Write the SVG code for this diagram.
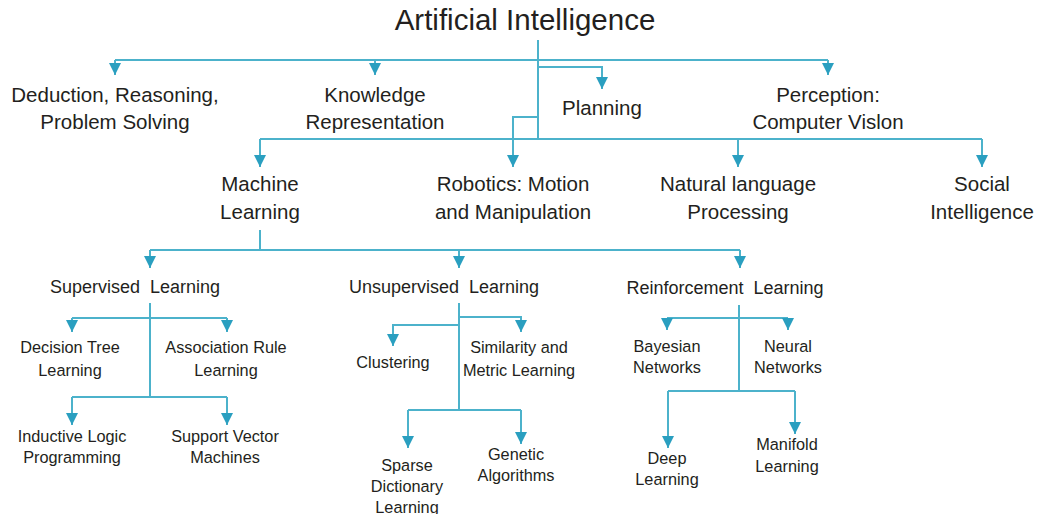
<svg xmlns="http://www.w3.org/2000/svg" width="1043" height="514" viewBox="0 0 1043 514">
<defs>
<marker id="ah" viewBox="0 0 10 10" refX="10" refY="5" markerWidth="12" markerHeight="12" markerUnits="userSpaceOnUse" orient="auto">
<path d="M0,0 L10,5 L0,10 z" fill="#2a9fc0"/>
</marker>
<style>
text{font-family:"Liberation Sans",Arial,sans-serif;fill:#231f20;text-anchor:middle}
.t0{font-size:29.5px}
.t1{font-size:20.5px}
.t2{font-size:18px}
.t3{font-size:16.3px}
.c path{fill:none;stroke:#4cb2cb;stroke-width:2}
.c path.a{marker-end:url(#ah)}
</style>
</defs>
<rect width="1043" height="514" fill="#ffffff"/>
<g class="c" id="connectors">
<path d="M538,40 V140"/>
<path d="M115,60 H828"/>
<path class="a" d="M115,60 V75"/>
<path class="a" d="M375,60 V75"/>
<path class="a" d="M828,60 V75"/>
<path class="a" d="M538,67 H602 V89"/>
<path class="a" d="M538,117 H513 V167"/>
<path d="M260,139 H982"/>
<path class="a" d="M260,139 V167"/>
<path class="a" d="M738,139 V167"/>
<path class="a" d="M982,139 V167"/>
<path d="M260,230 V250"/>
<path d="M150,250 H740"/>
<path class="a" d="M150,250 V268"/>
<path class="a" d="M459,250 V268"/>
<path class="a" d="M740,250 V268"/>
<path d="M150,303 V397"/>
<path d="M72,318 H227"/>
<path class="a" d="M72,318 V332"/>
<path class="a" d="M227,318 V332"/>
<path d="M72,397 H227"/>
<path class="a" d="M72,397 V425"/>
<path class="a" d="M227,397 V425"/>
<path d="M459,303 V410"/>
<path class="a" d="M459,317 H521 V332"/>
<path class="a" d="M459,325 H393 V346"/>
<path d="M408,410 H521"/>
<path class="a" d="M408,410 V448"/>
<path class="a" d="M521,410 V444"/>
<path d="M739,305 V391"/>
<path d="M667,318 H788"/>
<path class="a" d="M667,318 V330"/>
<path class="a" d="M788,318 V330"/>
<path d="M668,391 H795"/>
<path class="a" d="M668,391 V448"/>
<path class="a" d="M795,391 V434"/>
</g>
<g id="n-ai"><text class="t0" x="525" y="30">Artificial Intelligence</text></g>
<g id="n-deduction"><text class="t1" x="115" y="102">Deduction, Reasoning,</text><text class="t1" x="115" y="129">Problem Solving</text></g>
<g id="n-knowledge"><text class="t1" x="375" y="102">Knowledge</text><text class="t1" x="375" y="129">Representation</text></g>
<g id="n-planning"><text class="t1" x="602" y="115">Planning</text></g>
<g id="n-perception"><text class="t1" x="828" y="102">Perception:</text><text class="t1" x="828" y="129">Computer Vislon</text></g>
<g id="n-ml"><text class="t1" x="260" y="191">Machine</text><text class="t1" x="260" y="219">Learning</text></g>
<g id="n-robotics"><text class="t1" x="513" y="191">Robotics: Motion</text><text class="t1" x="513" y="219">and Manipulation</text></g>
<g id="n-nlp"><text class="t1" x="738" y="191">Natural language</text><text class="t1" x="738" y="219">Processing</text></g>
<g id="n-social"><text class="t1" x="982" y="191">Social</text><text class="t1" x="982" y="219">Intelligence</text></g>
<g id="n-supervised"><text class="t2" x="135" y="293" xml:space="preserve">Supervised  Learning</text></g>
<g id="n-unsupervised"><text class="t2" x="444" y="293" xml:space="preserve">Unsupervised  Learning</text></g>
<g id="n-reinforcement"><text class="t2" x="725" y="294" xml:space="preserve">Reinforcement  Learning</text></g>
<g id="n-decision"><text class="t3" x="70" y="353">Decision Tree</text><text class="t3" x="70" y="376">Learning</text></g>
<g id="n-association"><text class="t3" x="226" y="353">Association Rule</text><text class="t3" x="226" y="376">Learning</text></g>
<g id="n-inductive"><text class="t3" x="72" y="442">Inductive Logic</text><text class="t3" x="72" y="463">Programming</text></g>
<g id="n-svm"><text class="t3" x="225" y="442">Support Vector</text><text class="t3" x="225" y="463">Machines</text></g>
<g id="n-clustering"><text class="t3" x="393" y="368">Clustering</text></g>
<g id="n-similarity"><text class="t3" x="519" y="353">Similarity and</text><text class="t3" x="519" y="376">Metric Learning</text></g>
<g id="n-sparse"><text class="t3" x="407" y="471">Sparse</text><text class="t3" x="407" y="492">Dictionary</text><text class="t3" x="407" y="513">Learning</text></g>
<g id="n-genetic"><text class="t3" x="516" y="460">Genetic</text><text class="t3" x="516" y="481">Algorithms</text></g>
<g id="n-bayesian"><text class="t3" x="667" y="352">Bayesian</text><text class="t3" x="667" y="373">Networks</text></g>
<g id="n-neural"><text class="t3" x="788" y="352">Neural</text><text class="t3" x="788" y="373">Networks</text></g>
<g id="n-deep"><text class="t3" x="667" y="464">Deep</text><text class="t3" x="667" y="485">Learning</text></g>
<g id="n-manifold"><text class="t3" x="787" y="450">Manifold</text><text class="t3" x="787" y="472">Learning</text></g>
</svg>
